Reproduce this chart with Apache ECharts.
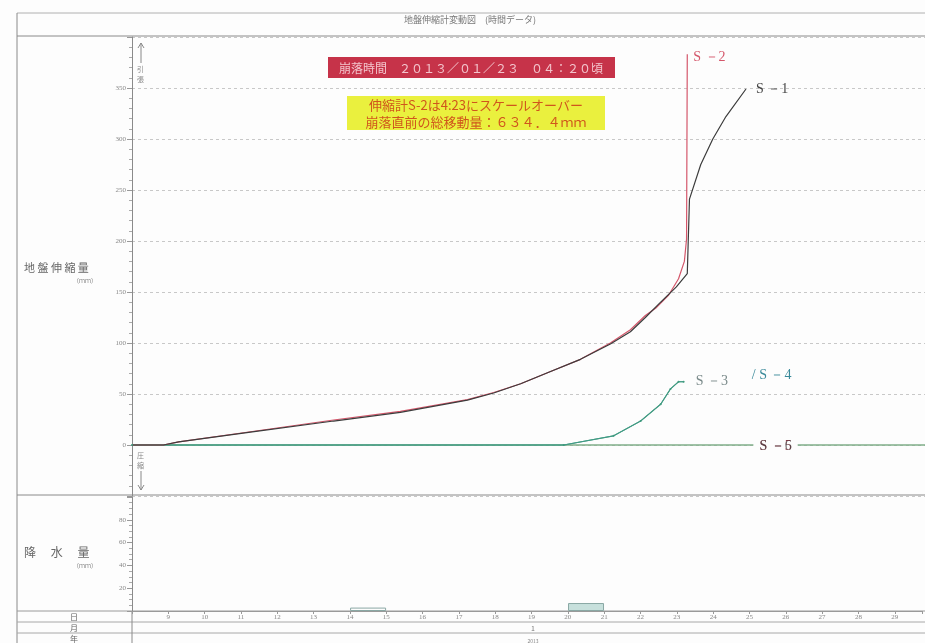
<!DOCTYPE html>
<html>
<head>
<meta charset="utf-8">
<script src="https://cdn.jsdelivr.net/npm/echarts@6/dist/echarts.min.js"></script>
<style>
  html, body { margin: 0; padding: 0; background: #fdfdfd; }
  #chart { width: 925px; height: 643px; }
</style>
</head>
<body>
<div id="chart"></div>
<script>
// day of month (Jan 2013) on x, ground extension (mm) on y
const s1Days = [8, 8.86, 9.28, 11.25, 13.53, 15.36, 17.2, 17.92, 18.66, 19.48, 20.3, 21.12, 21.67, 22.08, 22.5, 22.93, 23.23, 23.29, 23.6, 23.93, 24.29, 24.84]
const s1Values = [0, 0, 3, 12.7, 23.5, 32, 44, 51, 60, 72, 84, 99, 111, 125, 140, 155, 168, 241, 275, 300, 322, 349]

const s2Days = [8, 8.86, 9.28, 11.25, 13.53, 15.36, 17.2, 17.92, 18.66, 19.48, 20.3, 21.12, 21.67, 22.08, 22.36, 22.72, 22.99, 23.15, 23.21, 23.23]
const s2Values = [0, 0, 3, 13, 24.5, 33, 44.5, 51.5, 60, 72, 84, 100, 113, 127, 134, 147, 163, 180, 202, 383]

const s34Days = [8, 19.84, 21.21, 21.95, 22.5, 22.77, 22.99, 23.13]
const s34Values = [0, 0, 9, 23.5, 40, 55, 62, 62]

const s56Days = [8, 29.75]
const s56Values = [0, 0]

// rainfall bars (day centre, mm)
const rainDays = [14.5, 20.5]
const rainValues = [3, 7]

const dayLabels = ['9', '10', '11', '12', '13', '14', '15', '16', '17', '18', '19', '20', '21', '22', '23', '24', '25', '26', '27', '28', '29']

const pair = (xs, ys) => xs.map((x, i) => [x, ys[i]])

const CJK = '"Noto Sans CJK JP", sans-serif'
const SERIF = '"Liberation Serif", "DejaVu Serif", serif'
const LINE = '#9a9a9a'
const CLEAR = 'rgba(0,0,0,0)'

const chart = echarts.init(document.getElementById('chart'))

function hline(y, x1, x2, color, w) {
  return { type: 'line', shape: { x1: x1, y1: y, x2: x2, y2: y }, style: { stroke: color || LINE, lineWidth: w || 1 }, silent: true }
}
function vline(x, y1, y2, color) {
  return { type: 'line', shape: { x1: x, y1: y1, x2: x, y2: y2 }, style: { stroke: color || LINE, lineWidth: 1 }, silent: true }
}
function txt(s, x, y, size, color, opts) {
  return {
    type: 'text',
    style: Object.assign({ text: s, x: x, y: y, fill: color || '#666', font: size + 'px ' + CJK, align: 'left', verticalAlign: 'middle' }, opts || {}),
    silent: true
  }
}

const graphics = [
  // frame
  hline(13, 17, 925, '#b0b0b0'),
  hline(36, 17, 925, '#8a8a8a'),
  vline(17, 13, 643, '#8a8a8a'),
  hline(495, 17, 925, '#8a8a8a'),
  hline(611, 17, 925, '#9a9a9a'),
  hline(622, 17, 925, '#a8a8a8'),
  hline(633, 17, 925, '#a8a8a8'),
  vline(132, 611, 643, '#8a8a8a'),
  // title
  txt('地盤伸縮計変動図　(時間データ)', 470, 20, 9, '#777', { align: 'center' }),
  // left labels
  txt('地 盤 伸 縮 量', 24, 268, 11, '#666'),
  txt('（ｍｍ）', 73, 281, 6, '#888'),
  txt('降　 水　 量', 24, 552, 12, '#666'),
  txt('（ｍｍ）', 73, 566, 6, '#888'),
  txt('日', 70, 617, 8, '#666'),
  txt('月', 70, 628, 8, '#666'),
  txt('年', 70, 639, 8, '#666'),
  txt('1', 533, 628, 7, '#777', { align: 'center' }),
  txt('2013', 533, 641, 5, '#888', { align: 'center' }),
  // direction marks
  { type: 'polyline', shape: { points: [[138, 48], [141, 43], [144, 48]] }, style: { stroke: '#888', fill: null, lineWidth: 1 }, silent: true },
  vline(141, 43, 63, '#888'),
  txt('引', 137, 69, 7, '#888'),
  txt('張', 137, 79, 7, '#888'),
  txt('圧', 137, 455, 7, '#888'),
  txt('縮', 137, 465, 7, '#888'),
  vline(141, 471, 490, '#888'),
  { type: 'polyline', shape: { points: [[138, 485], [141, 490], [144, 485]] }, style: { stroke: '#888', fill: null, lineWidth: 1 }, silent: true },
  // annotation boxes
  { type: 'rect', shape: { x: 328, y: 57, width: 287, height: 21 }, style: { fill: '#c63349' }, silent: true },
  txt('崩落時間　２０１３／０１／２３　０４：２０頃', 471, 68, 12, '#f3c4cc', { align: 'center' }),
  { type: 'rect', shape: { x: 347, y: 96, width: 258, height: 34 }, style: { fill: '#eaf03e' }, silent: true },
  txt('伸縮計S-2は4:23にスケールオーバー', 476, 105, 13, '#d0561c', { align: 'center' }),
  txt('崩落直前の総移動量：６３４．４ｍｍ', 476, 122, 13, '#d0561c', { align: 'center' })
]

const option = {
  animation: false,
  backgroundColor: '#fdfdfd',
  grid: [
    { left: 132, right: 0, top: 37, height: 459 },
    { left: 132, right: 0, top: 497, height: 114 }
  ],
  xAxis: [
    { gridIndex: 0, type: 'value', min: 8, max: 29.75, show: false },
    {
      gridIndex: 1, type: 'value', min: 8, max: 29.75, interval: 1,
      axisLine: { show: true, lineStyle: { color: '#9a9a9a' } },
      axisTick: { length: 3, lineStyle: { color: '#999' } },
      axisLabel: {
        fontSize: 7, color: '#888', margin: 3, fontFamily: SERIF,
        formatter: v => (Number.isInteger(v) && v >= 9 && v <= 29) ? dayLabels[v - 9] : ''
      },
      splitLine: { show: false }
    }
  ],
  yAxis: [
    {
      gridIndex: 0, type: 'value', min: -50, max: 400, interval: 50,
      axisLine: { show: true, lineStyle: { color: '#8a8a8a' } },
      axisTick: { show: true, length: 5, lineStyle: { color: '#999' } },
      minorTick: { show: true, splitNumber: 5, length: 3, lineStyle: { color: '#aaa' } },
      axisLabel: {
        fontSize: 7, color: '#888', margin: 6, fontFamily: SERIF,
        formatter: v => (v >= 0 && v <= 350) ? String(v) : ''
      },
      splitLine: { lineStyle: { color: '#c8c8c8', type: [3, 3] } }
    },
    {
      gridIndex: 1, type: 'value', min: 0, max: 100, interval: 20,
      axisLine: { show: true, lineStyle: { color: '#8a8a8a' } },
      axisTick: { show: true, length: 5, lineStyle: { color: '#999' } },
      minorTick: { show: true, splitNumber: 4, length: 3, lineStyle: { color: '#aaa' } },
      axisLabel: {
        fontSize: 7, color: '#888', margin: 6, fontFamily: SERIF,
        formatter: v => (v > 0 && v < 100) ? String(v) : ''
      },
      splitLine: { show: false }
    }
  ],
  series: [
    {
      name: 'S-5', type: 'line', xAxisIndex: 0, yAxisIndex: 0,
      data: pair(s56Days, s56Values), symbol: 'none',
      lineStyle: { color: '#7fae88', width: 1.4 },
      markPoint: {
        symbol: 'circle', symbolSize: 2, itemStyle: { color: CLEAR },
        data: [
          { coord: [24.8, 0], label: { show: true, position: 'inside', formatter: 'S －5', offset: [31, 1], color: '#9a3a4a', fontSize: 14, fontFamily: SERIF, backgroundColor: '#fdfdfd', padding: [0, 6] } },
          { coord: [24.8, 0], label: { show: true, position: 'inside', formatter: 'S －6', offset: [31, 1], color: 'rgba(70,70,70,0.75)', fontSize: 14, fontFamily: SERIF } }
        ]
      }
    },
    {
      name: 'S-3', type: 'line', xAxisIndex: 0, yAxisIndex: 0,
      data: pair(s34Days, s34Values), symbol: 'circle', symbolSize: 2, showSymbol: true,
      itemStyle: { color: '#3f9a7e' },
      lineStyle: { color: '#4a9f80', width: 1.2 },
      endLabel: { show: true, formatter: 'S －3', color: '#7a8a8a', fontSize: 14, fontFamily: SERIF, distance: 12 }
    },
    {
      name: 'S-4', type: 'line', xAxisIndex: 0, yAxisIndex: 0,
      data: pair(s34Days, s34Values), symbol: 'none',
      lineStyle: { color: '#3f9a86', width: 1 },
      markPoint: {
        symbol: 'circle', symbolSize: 2, itemStyle: { color: CLEAR },
        data: [
          { coord: [23.13, 62], label: { show: true, position: 'inside', formatter: '/ S －4', offset: [88, -6], color: '#3a8a9a', fontSize: 14, fontFamily: SERIF } }
        ]
      }
    },
    {
      name: 'S-2', type: 'line', xAxisIndex: 0, yAxisIndex: 0,
      data: pair(s2Days, s2Values), symbol: 'none',
      lineStyle: { color: '#d4566a', width: 1.2 },
      endLabel: { show: true, formatter: 'S －2', color: '#d4566a', fontSize: 14, fontFamily: SERIF, distance: 6, offset: [0, 3] }
    },
    {
      name: 'S-1', type: 'line', xAxisIndex: 0, yAxisIndex: 0,
      data: pair(s1Days, s1Values), symbol: 'none',
      lineStyle: { color: '#3c3c3c', width: 1.2 },
      endLabel: { show: true, formatter: 'S －1', color: '#444', fontSize: 14, fontFamily: SERIF, distance: 10 }
    },
    {
      name: '降水量', type: 'bar', xAxisIndex: 1, yAxisIndex: 1,
      data: pair(rainDays, rainValues), barWidth: 36,
      itemStyle: {
        color: p => p.dataIndex === 1 ? '#c7e0dc' : 'rgba(255,255,255,0)',
        borderColor: '#8aa8a4', borderWidth: 1
      }
    }
  ],
  graphic: graphics
}

chart.setOption(option)
</script>
</body>
</html>
